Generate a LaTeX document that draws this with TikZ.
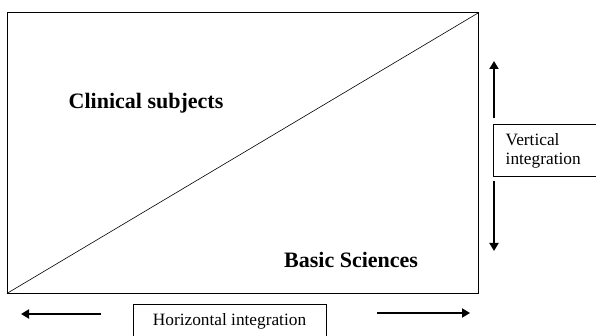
\documentclass[tikz,border=0pt]{standalone}
\usepackage{fontspec}
\setmainfont{Liberation Serif}
\usetikzlibrary{arrows.meta}
\begin{document}
\begin{tikzpicture}[x=1pt,y=-1pt,
  frame/.style={draw, line width=0.9pt, inner sep=0pt},
  bigtext/.style={font=\fontsize{22}{24}\selectfont\bfseries, anchor=base west, inner sep=0pt},
  smalltext/.style={font=\fontsize{17.3}{19}\selectfont, inner sep=0pt},
  thickarrow/.style={line width=1.8pt, -{Triangle[width=9pt,length=8pt]}}
]
\useasboundingbox (0,0) rectangle (596,336);
\clip (0,0) rectangle (596,336);
% main frame
\node[frame, anchor=north west, minimum width=471pt, minimum height=280pt] (main) at (7,12.5) {};
\draw[line width=0.6pt] (main.south west) -- (main.north east);
\node[bigtext] (clin) at (68.5,109) {Clinical subjects};
\node[bigtext] (basic) at (284,268) {Basic Sciences};
% vertical integration
\node[frame, anchor=north west, minimum width=130pt, minimum height=52pt] (vbox) at (493,124) {};
\node[smalltext, anchor=west, align=left] (vtext) at (505.5,150.5) {Vertical\\integration};
\coordinate (vupS) at (494,118);
\coordinate (vupE) at (494,61);
\coordinate (vdnS) at (494,181);
\coordinate (vdnE) at (494,251);
\draw[thickarrow] (vupS) -- (vupE);
\draw[thickarrow] (vdnS) -- (vdnE);
% horizontal integration
\node[frame, anchor=north west, minimum width=193pt, minimum height=50pt] (hbox) at (133,304) {};
\node[smalltext, anchor=base] (htext) at (229.5,325) {Horizontal integration};
\coordinate (hlS) at (101,314);
\coordinate (hlE) at (21,314);
\coordinate (hrS) at (377,313);
\coordinate (hrE) at (470,313);
\draw[thickarrow] (hlS) -- (hlE);
\draw[thickarrow] (hrS) -- (hrE);
\end{tikzpicture}
\end{document}
